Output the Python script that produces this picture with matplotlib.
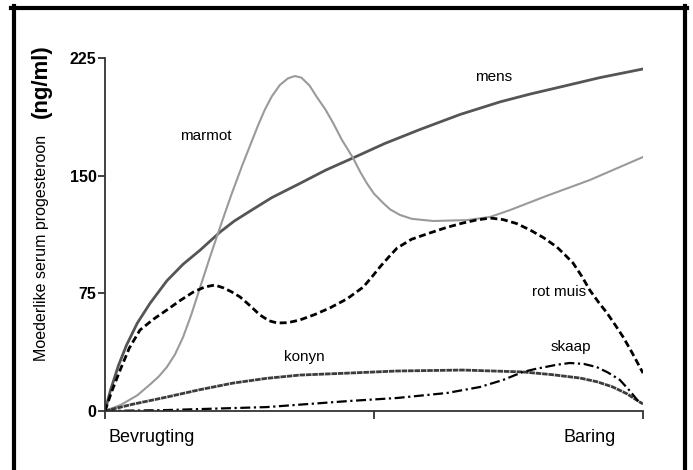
import matplotlib
matplotlib.use('Agg')
import matplotlib.pyplot as plt
from matplotlib.lines import Line2D

plt.rcParams['font.family'] = ['Liberation Sans', 'DejaVu Sans']

# Data (x: fraction of gestation, y: ng/ml)
mens_x = [0, 0.01, 0.025, 0.04, 0.06, 0.084, 0.115, 0.145, 0.177, 0.214, 0.24, 0.27, 0.31,
          0.362, 0.41, 0.461, 0.52, 0.586, 0.66, 0.734, 0.79, 0.846, 0.92, 1.0]
mens_y = [0, 13, 29, 42, 56, 68.8, 83, 93.5, 102.6, 114.1, 121, 127.5, 136,
          145, 153.5, 161.3, 170.5, 179.5, 189, 197, 202, 206.5, 212.5, 218]

marmot_x = [0, 0.03, 0.06, 0.084, 0.10, 0.115, 0.13, 0.145, 0.16, 0.177, 0.195, 0.214, 0.235,
            0.255, 0.27, 0.285, 0.297, 0.31, 0.325, 0.34, 0.353, 0.365, 0.38, 0.394, 0.41,
            0.424, 0.44, 0.461, 0.475, 0.487, 0.50, 0.517, 0.53, 0.548, 0.57, 0.61, 0.673,
            0.716, 0.753, 0.82, 0.901, 1.0]
marmot_y = [0, 4, 10, 17, 22, 28, 36, 47, 61, 79, 98, 117.3, 138,
            156.5, 169.5, 182.5, 192, 200.5, 207.8, 212, 213.5, 212.5, 207.5, 200, 192,
            183.6, 173, 161.3, 152, 145, 138.5, 132.6, 128.5, 125, 122.5, 121.1, 121.7,
            123.7, 128.1, 137, 147.2, 161.9]

rotmuis_x = [0, 0.012, 0.028, 0.045, 0.065, 0.09, 0.115, 0.14, 0.164, 0.185, 0.204, 0.22,
             0.235, 0.251, 0.27, 0.288, 0.305, 0.32, 0.34, 0.362, 0.39, 0.418, 0.45, 0.48,
             0.495, 0.511, 0.527, 0.543, 0.57, 0.604, 0.635, 0.665, 0.69, 0.716, 0.74, 0.765,
             0.79, 0.815, 0.84, 0.855, 0.87, 0.886, 0.901, 0.917, 0.933, 0.948, 0.963, 0.98, 1.0]
rotmuis_y = [0, 12, 26, 40, 51.6, 58.5, 64.4, 70.5, 75.8, 79, 80.3, 78.5,
             76, 72.7, 67, 61.2, 57.5, 56.1, 56.3, 58, 61.5, 65.7, 71.5, 79,
             85, 91.8, 98, 103.9, 109.5, 113.5, 117, 119.8, 121.7, 123, 122, 119.5,
             115.4, 110.5, 104.5, 99.5, 94.3, 86, 77.1, 69.5, 62.5, 55, 47.2, 37, 24.2]

konyn_x = [0, 0.05, 0.115, 0.175, 0.238, 0.30, 0.362, 0.455, 0.543, 0.665, 0.777, 0.83,
           0.883, 0.915, 0.944, 0.97, 0.994, 1.0]
konyn_y = [0, 4.2, 8.9, 13.5, 17.8, 20.8, 22.9, 24.2, 25.5, 26.1, 24.9, 23.2,
           21.0, 18.6, 15.3, 11, 5.7, 4.5]

skaap_x = [0, 0.115, 0.301, 0.455, 0.543, 0.636, 0.697, 0.740, 0.777, 0.80, 0.84, 0.864,
           0.89, 0.914, 0.935, 0.957, 0.975, 0.994]
skaap_y = [0, 0.6, 2.5, 6.4, 8.3, 11.5, 15.3, 19.8, 24.9, 26.8, 29.5, 30.6,
           30, 28, 24.5, 19.8, 13, 5.1]

y_ticks = [0, 75, 150, 225]
x_ticks = [0, 0.5, 1.0]

fig = plt.figure(figsize=(6.93, 4.70), dpi=100)
ax = fig.add_axes([105 / 693, 59 / 470, 538 / 693, 353 / 470])

ax.plot(mens_x, mens_y, color='#555555', lw=2.0, solid_joinstyle='round')
ax.plot(marmot_x, marmot_y, color='#9a9a9a', lw=1.5, solid_joinstyle='round')
ax.plot(konyn_x, konyn_y, color='#3c3c3c', lw=2.0, linestyle=(0, (2, 0.3)))
ax.plot(rotmuis_x, rotmuis_y, color='black', lw=2.0, linestyle=(0, (2.5, 1.3)))
ax.plot(skaap_x, skaap_y, color='black', lw=1.6, linestyle=(0, (4.5, 1.6, 1, 1.6)))

ax.set_xlim(0, 1.0)
ax.set_ylim(0, 225)
for s in ['top', 'right']:
    ax.spines[s].set_visible(False)
for s in ['left', 'bottom']:
    ax.spines[s].set_color('#333333')
    ax.spines[s].set_linewidth(1.3)

ax.set_yticks(y_ticks)
ax.set_yticklabels([str(v) for v in y_ticks], fontsize=11.5, fontweight='bold')
ax.set_xticks(x_ticks)
ax.set_xticklabels(['', '', ''])
ax.tick_params(axis='y', length=5, width=1.3, color='#333333', pad=1)
ax.tick_params(axis='x', length=6, width=1.3, color='#333333')

# axis end labels
xt = ax.get_xaxis_transform()
ax.text(0.087, -0.074, 'Bevrugting', transform=xt, fontsize=13, ha='center', va='center')
ax.text(0.900, -0.074, 'Baring', transform=xt, fontsize=13, ha='center', va='center')

# y-axis label in two parts
fig.text(41.5 / 693, 1 - 247.5 / 470, 'Moederlike serum progesteroon', rotation=90,
         fontsize=11.5, ha='center', va='center')
fig.text(41.5 / 693, 1 - 81.5 / 470, '(ng/ml)', rotation=90, fontsize=16,
         fontweight='bold', ha='center', va='center')

# series labels
ax.text(0.188, 175, 'marmot', fontsize=11, ha='center', va='center')
ax.text(0.723, 213, 'mens', fontsize=11, ha='center', va='center')
ax.text(0.370, 34.5, 'konyn', fontsize=11, ha='center', va='center')
ax.text(0.844, 76, 'rot muis', fontsize=11, ha='center', va='center')
ax.text(0.866, 41, 'skaap', fontsize=11, ha='center', va='center')

# black frame around the picture
fig.add_artist(Line2D([13.5 / 693, 13.5 / 693], [0, 1 - 6 / 470], color='black', lw=3, transform=fig.transFigure))
fig.add_artist(Line2D([11 / 693, 687 / 693], [1 - 8 / 470, 1 - 8 / 470], color='black', lw=3, transform=fig.transFigure))
fig.add_artist(Line2D([685 / 693, 685 / 693], [0, 1 - 6 / 470], color='black', lw=3, transform=fig.transFigure))

fig.savefig('out.png', dpi=100)
